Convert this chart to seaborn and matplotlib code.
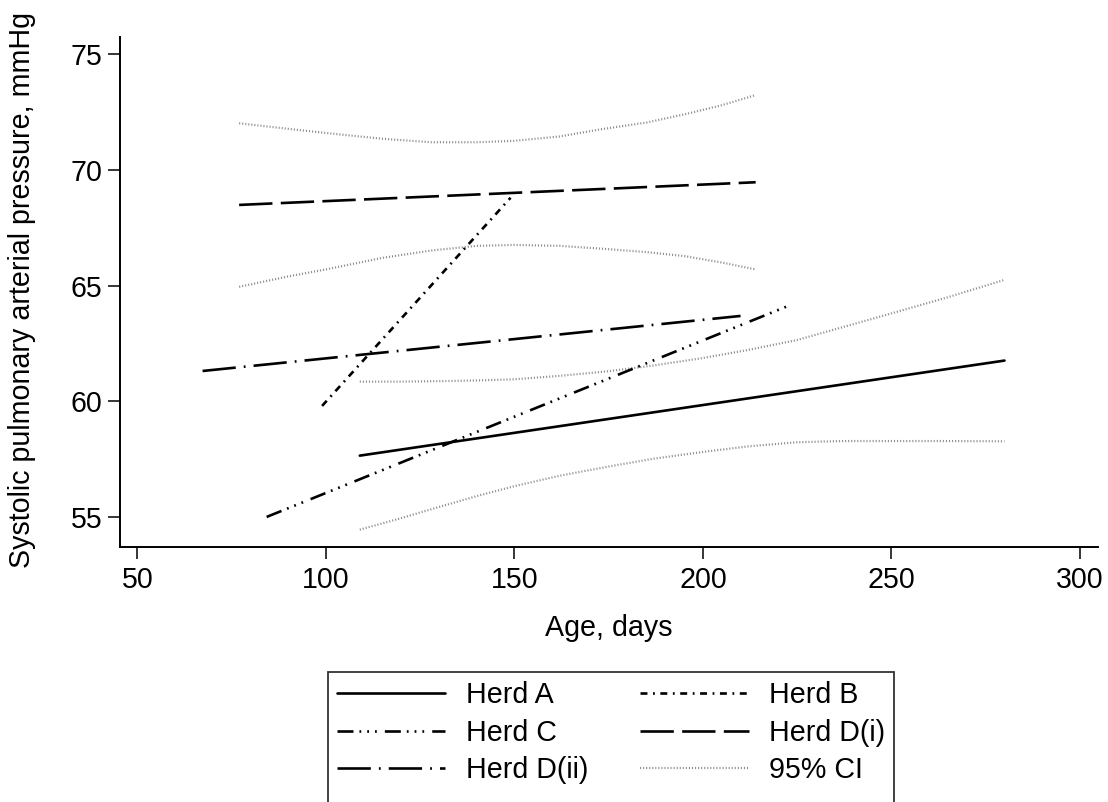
import matplotlib
matplotlib.use("Agg")
import matplotlib.pyplot as plt
from matplotlib.lines import Line2D
import seaborn as sns

# ---- data ----
herd_a_age = [109, 280]
herd_a_sap = [57.65, 61.76]
herd_b_age = [99, 149]
herd_b_sap = [59.8, 68.8]
herd_c_age = [84.3, 223.8]
herd_c_sap = [55.0, 64.2]
herd_di_age = [77, 214]
herd_di_sap = [68.49, 69.47]
herd_dii_age = [67.3, 210]
herd_dii_sap = [61.31, 63.69]

ci_di_age = [77, 90, 100, 115, 128, 140, 150, 162, 173, 185, 195, 205, 214]
ci_di_upper = [72.02, 71.78, 71.60, 71.35, 71.20, 71.20, 71.26, 71.45, 71.76, 72.05, 72.40, 72.80, 73.24]
ci_di_lower = [64.95, 65.40, 65.70, 66.20, 66.52, 66.72, 66.76, 66.72, 66.60, 66.45, 66.28, 66.00, 65.70]

ci_a_age = [109, 120, 130, 140, 150, 162, 175, 187, 200, 212, 225, 237, 250, 265, 280]
ci_a_upper = [60.85, 60.85, 60.87, 60.90, 60.95, 61.10, 61.30, 61.55, 61.87, 62.22, 62.65, 63.20, 63.80, 64.50, 65.25]
ci_a_lower = [54.45, 54.95, 55.43, 55.90, 56.33, 56.78, 57.18, 57.52, 57.81, 58.05, 58.23, 58.28, 58.28, 58.28, 58.27]

x_ticks = [50, 100, 150, 200, 250, 300]
y_ticks = [55, 60, 65, 70, 75]
x_label = "Age, days"
y_label = "Systolic pulmonary arterial pressure, mmHg"

# ---- style ----
sns.set_theme(style="white")
plt.rcParams["font.family"] = ["Liberation Sans", "DejaVu Sans"]
plt.rcParams["lines.scale_dashes"] = False
plt.rcParams["text.color"] = "black"

FS = 20.6
fig = plt.figure(figsize=(11.08, 8.02), dpi=100)
ax = fig.add_axes([120 / 1108, 1 - 547 / 802, 978 / 1108, 510 / 802])

lw = 1.9
styles = {
    "Herd A": "-",
    "Herd B": (0, (5, 4, 1.3, 4)),
    "Herd C": (0, (11.5, 4.3, 1.3, 4.3, 1.3, 4.3, 1.3, 5.8)),
    "Herd D(i)": (0, (24, 6)),
    "Herd D(ii)": (0, (24, 5.8, 1.3, 5.8)),
}
series = [
    ("Herd A", herd_a_age, herd_a_sap),
    ("Herd B", herd_b_age, herd_b_sap),
    ("Herd C", herd_c_age, herd_c_sap),
    ("Herd D(i)", herd_di_age, herd_di_sap),
    ("Herd D(ii)", herd_dii_age, herd_dii_sap),
]

ci_style = dict(color="#8f8f8f", linewidth=1.6, linestyle=(0, (0.8, 1.4)))
for xs, ys in [(ci_di_age, ci_di_upper), (ci_di_age, ci_di_lower),
               (ci_a_age, ci_a_upper), (ci_a_age, ci_a_lower)]:
    sns.lineplot(x=xs, y=ys, ax=ax, sort=False, estimator=None, **ci_style)

for name, xs, ys in series:
    sns.lineplot(x=xs, y=ys, ax=ax, sort=False, estimator=None,
                 color="black", linewidth=lw, linestyle=styles[name],
                 dash_capstyle="butt")

ax.set_xlim(45.4, 304.8)
ax.set_ylim(53.7, 75.75)
ax.set_xticks(x_ticks)
ax.set_yticks(y_ticks)
ax.tick_params(axis="both", which="major", direction="out", length=8.5, width=1.1,
               color="black", labelsize=FS, labelcolor="black", left=True, bottom=True)
ax.tick_params(axis="x", pad=5)
ax.tick_params(axis="y", pad=4)
for s in ["top", "right"]:
    ax.spines[s].set_visible(False)
for s in ["left", "bottom"]:
    ax.spines[s].set_color("black")
    ax.spines[s].set_linewidth(1.4)
ax.grid(False)

ax.set_xlabel(x_label, fontsize=FS, color="black")
ax.set_ylabel(y_label, fontsize=FS, color="black")
ax.xaxis.set_label_coords(0.5, -(628 - 547) / 510)
ax.xaxis.label.set_va("center")
ax.yaxis.set_label_coords(-(120 - 22) / 978, (547 - 290) / 510)
ax.yaxis.label.set_va("center")

# legend (column-wise fill: A, C, D(ii), blank | B, D(i), CI, blank)
blank = Line2D([], [], color="none")
order = ["Herd A", "Herd C", "Herd D(ii)", None, "Herd B", "Herd D(i)", "95% CI", None]
leg_h, leg_l = [], []
for k in order:
    if k is None:
        leg_h.append(blank)
        leg_l.append(" ")
    elif k == "95% CI":
        leg_h.append(Line2D([], [], **ci_style))
        leg_l.append(k)
    else:
        leg_h.append(Line2D([], [], color="black", linewidth=lw, linestyle=styles[k]))
        leg_l.append(k)

leg = fig.legend(leg_h, leg_l, ncol=2, loc="upper center",
                 bbox_to_anchor=(611 / 1108, 1 - 658 / 802),
                 fontsize=FS, frameon=True, fancybox=False, edgecolor="black",
                 handlelength=3.8, handletextpad=0.72, columnspacing=1.8,
                 borderpad=0.3, labelspacing=0.34, labelcolor="black")
leg.get_frame().set_linewidth(1.3)

fig.savefig("out.png", dpi=100)
